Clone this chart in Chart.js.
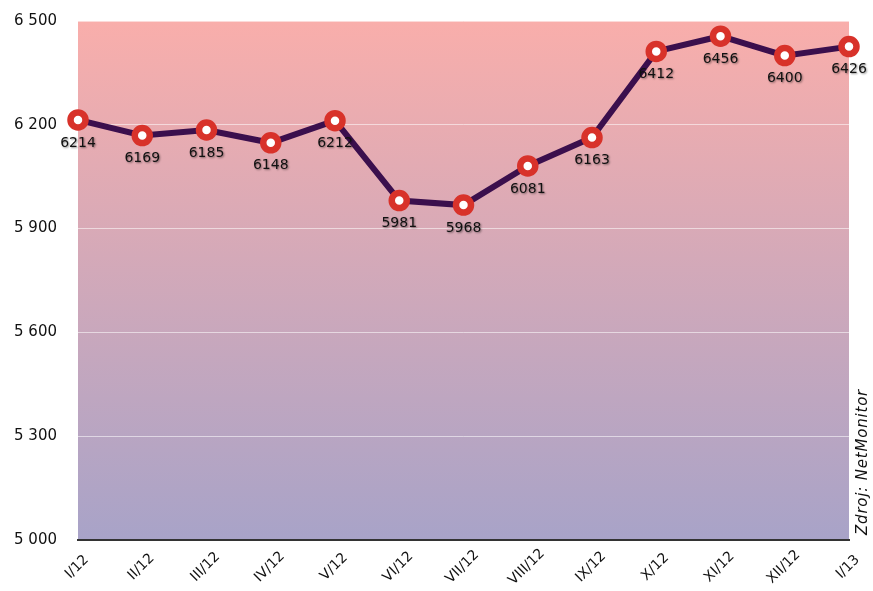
<!DOCTYPE html>
<html>
<head>
<meta charset="utf-8">
<script src="https://cdn.jsdelivr.net/npm/chart.js@4.4.0/dist/chart.umd.min.js"></script>
<style>
  html, body { margin: 0; padding: 0; background: #fff; }
  #wrap { width: 873px; height: 591px; }
</style>
</head>
<body>
<div id="wrap"><canvas id="canvas" width="873" height="591"></canvas></div>
<script>
var months = ['I/12', 'II/12', 'III/12', 'IV/12', 'V/12', 'VI/12', 'VII/12', 'VIII/12', 'IX/12', 'X/12', 'XI/12', 'XII/12', 'I/13'];
var users = [6214, 6169, 6185, 6148, 6212, 5981, 5968, 6081, 6163, 6412, 6456, 6400, 6426];
var yTicks = [5000, 5300, 5600, 5900, 6200, 6500];
var source = 'Zdroj: NetMonitor';

var fontName = '"DejaVu Sans", Verdana, sans-serif';

// gradient behind the plot area
var bgPlugin = {
  id: 'bgGradient',
  beforeDraw: function(chart) {
    var a = chart.chartArea, ctx = chart.ctx;
    var g = ctx.createLinearGradient(0, a.top, 0, a.bottom);
    g.addColorStop(0, '#f9aeab');
    g.addColorStop(1, '#a8a3c8');
    ctx.save();
    ctx.fillStyle = g;
    ctx.fillRect(a.left, a.top, a.right - a.left, a.bottom - a.top);
    ctx.restore();
  }
};

// value labels under points, slanted month labels, source note
var labelPlugin = {
  id: 'valueLabels',
  afterDatasetsDraw: function(chart) {
    var ctx = chart.ctx;
    var meta = chart.getDatasetMeta(0);
    ctx.save();
    ctx.font = '14px ' + fontName;
    ctx.textAlign = 'center';
    ctx.textBaseline = 'middle';
    ctx.fillStyle = '#111';
    ctx.shadowColor = 'rgba(0,0,0,0.45)';
    ctx.shadowBlur = 2;
    ctx.shadowOffsetX = 1;
    ctx.shadowOffsetY = 1;
    meta.data.forEach(function(pt, i) {
      ctx.fillText(String(users[i]), pt.x, pt.y + 23);
    });
    ctx.restore();

    var xs = chart.scales.x;
    ctx.save();
    ctx.font = '14px ' + fontName;
    ctx.fillStyle = '#111';
    ctx.textAlign = 'center';
    ctx.textBaseline = 'middle';
    months.forEach(function(m, i) {
      ctx.save();
      ctx.translate(xs.getPixelForValue(i) - 1, 567);
      ctx.rotate(-Math.PI / 4);
      ctx.fillText(m, 0, 0);
      ctx.restore();
    });
    ctx.restore();

    ctx.save();
    ctx.font = 'italic 15px ' + fontName;
    ctx.letterSpacing = '0.8px';
    ctx.fillStyle = '#111';
    ctx.translate(863, 535);
    ctx.rotate(-Math.PI / 2);
    ctx.textAlign = 'left';
    ctx.textBaseline = 'middle';
    ctx.fillText(source, 0, 0);
    ctx.restore();
  }
};

new Chart(document.getElementById('canvas'), {
  type: 'line',
  data: {
    labels: months,
    datasets: [{
      data: users,
      borderColor: '#3b0f4d',
      borderWidth: 6,
      pointBackgroundColor: '#ffffff',
      pointBorderColor: '#d8322a',
      pointBorderWidth: 6.5,
      pointRadius: 7.5,
      tension: 0,
      fill: false
    }]
  },
  options: {
    responsive: false,
    animation: false,
    layout: { padding: { top: 21, right: 24, left: 0, bottom: 0 } },
    plugins: { legend: { display: false }, tooltip: { enabled: false } },
    scales: {
      x: {
        offset: false,
        grid: { display: false, drawTicks: false },
        border: { display: true, color: '#333', width: 2 },
        ticks: { display: false },
        afterFit: function(s) { s.height = 51; }
      },
      y: {
        min: 5000,
        max: 6500,
        afterBuildTicks: function(s) { s.ticks = yTicks.map(function(v) { return { value: v }; }); },
        grid: { color: 'rgba(255,255,255,0.55)', lineWidth: 1, drawTicks: false },
        border: { display: false },
        ticks: {
          font: { family: fontName, size: 15 },
          color: '#111',
          padding: 21,
          callback: function(v) { return String(v).replace(/\B(?=(\d{3})+(?!\d))/g, ' '); }
        },
        afterFit: function(s) { s.width = 78; s.paddingTop = 0; s.paddingBottom = 0; }
      }
    }
  },
  plugins: [bgPlugin, labelPlugin]
});
</script>
</body>
</html>
